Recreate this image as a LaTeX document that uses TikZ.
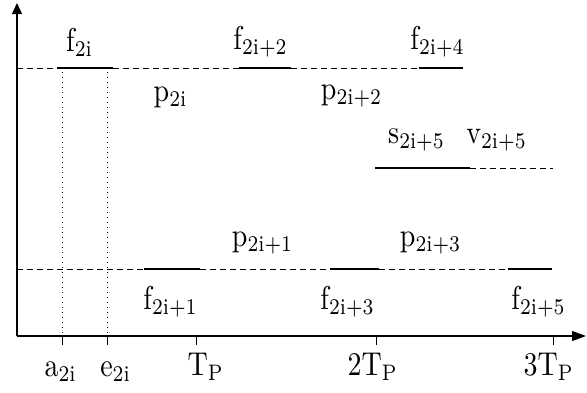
\documentclass[tikz,border=0pt]{standalone}
\usepackage{graphicx}
\usetikzlibrary{arrows.meta}
\newcommand{\bigfont}{\fontsize{10}{10}\selectfont}
\newcommand{\subfont}{\fontsize{6.8}{6.8}\selectfont}
% label with a lowered index, blown up from the 10pt design
\newcommand{\tlab}[2]{\scalebox{2.8}[3.3]{\bigfont #1\raisebox{-1.5pt}{\subfont #2}}}

\begin{document}
\begin{tikzpicture}[x=1pt,y=-1pt,
  busy/.style={line width=1.3pt},
  idle/.style={line width=1pt,dash pattern=on 6pt off 4pt},
  guide/.style={line width=1pt,dash pattern=on 1pt off 4pt},
  lbl/.style={inner sep=0pt}]
  \useasboundingbox (0,0) rectangle (587,392);
  % ---- axes
  \coordinate (O) at (17,336);
  \coordinate (ytop) at (17,3);
  \coordinate (xend) at (586,336);
  \draw[line width=1.2pt,-{Triangle[length=11pt,width=10pt]}] (O) -- (ytop);
  \draw[line width=1.2pt,-{Triangle[length=14pt,width=10pt]}] (O) -- (xend);
  \foreach \name/\x in {a/62,e/107,t1/196,t2/376,t3/553}{
    \coordinate (\name) at (\x,336);
    \draw[line width=1pt] (\name) -- ++(0,9);
  }
  % ---- tick labels
  \node[lbl] (la) at (60,372) {\tlab{a}{2i}};
  \node[lbl] (le) at (115,372) {\tlab{e}{2i}};
  \node[lbl] (lt1) at (205,367) {\tlab{T}{P}};
  \node[lbl] (lt2) at (372,367) {\tlab{2T}{P}};
  \node[lbl] (lt3) at (548,367) {\tlab{3T}{P}};
  % ---- upper line
  \draw[idle] (17,68) -- (57,68);
  \draw[busy] (57,68) -- (113,68);
  \draw[idle] (113,68) -- (239,68);
  \draw[busy] (239,68) -- (291,68);
  \draw[idle] (291,68) -- (419,68);
  \draw[busy] (419,68) -- (463,68);
  \node[lbl] (f0) at (79,42) {\tlab{f}{2i}};
  \node[lbl] (f2) at (260,42) {\tlab{f}{2i+2}};
  \node[lbl] (f4) at (437,42) {\tlab{f}{2i+4}};
  \node[lbl] (p0) at (170,97) {\tlab{p}{2i}};
  \node[lbl] (p2) at (351,96) {\tlab{p}{2i+2}};
  % ---- middle line
  \draw[busy] (375,168) -- (470,168);
  \draw[idle] (470,168) -- (553,168);
  \node[lbl] (s5) at (416,140) {\tlab{s}{2i+5}};
  \node[lbl] (v5) at (496,140) {\tlab{v}{2i+5}};
  % ---- lower line
  \draw[idle] (17,269) -- (144,269);
  \draw[busy] (144,269) -- (200,269);
  \draw[idle] (200,269) -- (330,269);
  \draw[busy] (330,269) -- (379,269);
  \draw[idle] (379,269) -- (508,269);
  \draw[busy] (508,269) -- (552,269);
  \node[lbl] (p1) at (262,243) {\tlab{p}{2i+1}};
  \node[lbl] (p3) at (430,243) {\tlab{p}{2i+3}};
  \node[lbl] (f1) at (170,302) {\tlab{f}{2i+1}};
  \node[lbl] (f3) at (347,302) {\tlab{f}{2i+3}};
  \node[lbl] (f5) at (538,302) {\tlab{f}{2i+5}};
  % ---- guides
  \draw[guide] (62,72) -- (a);
  \draw[guide] (107,72) -- (e);
\end{tikzpicture}
\end{document}
